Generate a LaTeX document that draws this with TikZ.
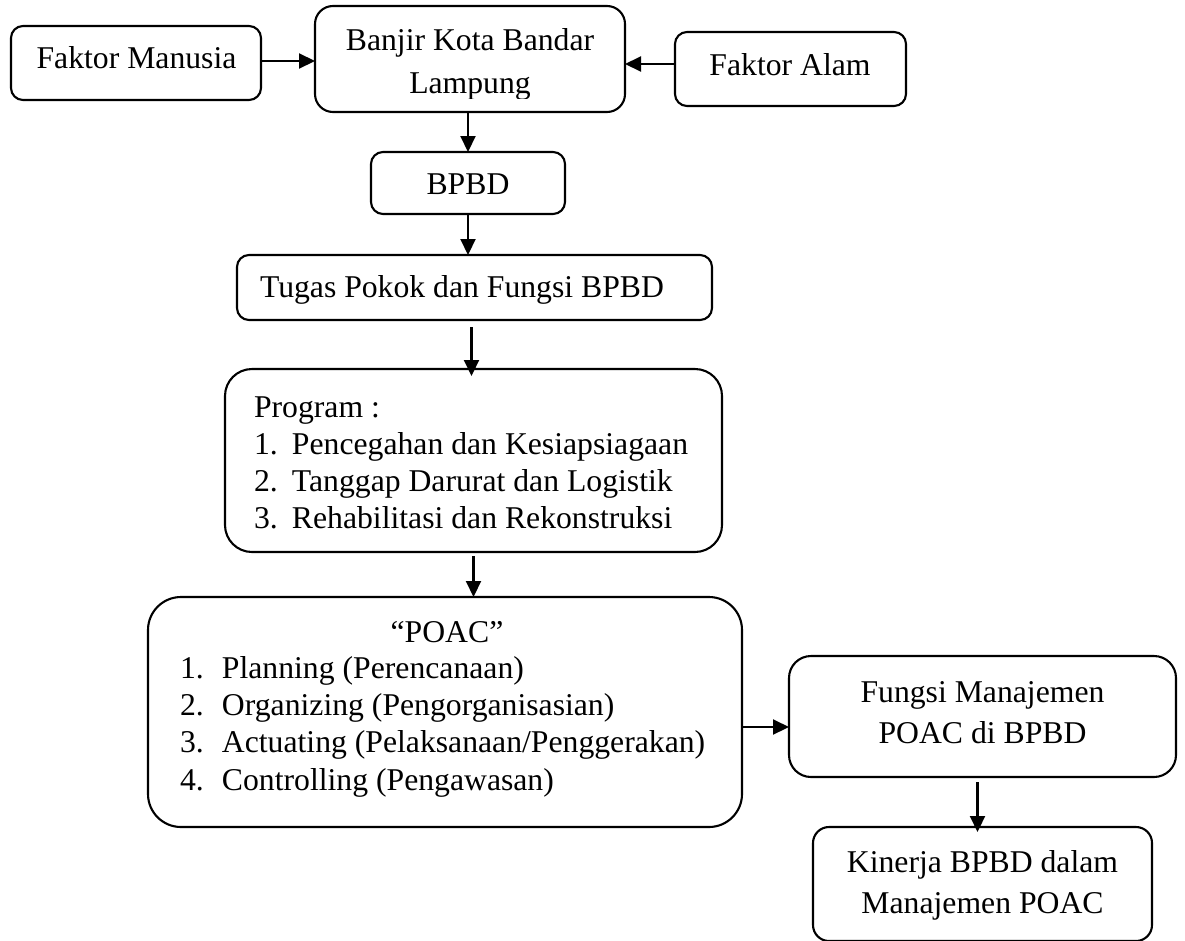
\documentclass[tikz,border=0pt]{standalone}
\usepackage{fontspec}
\setmainfont{Liberation Serif}
\usetikzlibrary{arrows.meta}
\newcommand\fsz{\fontsize{31.7}{41}\selectfont}
\newcommand\txtlines[3]{\fontsize{31.7}{#1}\selectfont\begin{tabular}[t]{@{}#2@{}}#3\end{tabular}}
\newcommand\itm[2]{\makebox[#1][l]{#2}}
\tikzset{
  box/.style={draw=black, line width=2.1pt, inner sep=0pt, outer sep=0pt},
  arr/.style={draw=black, line width=2.1pt, -{Triangle[length=16pt,width=15pt]}},
  txt/.style={inner sep=0pt, outer sep=0pt, font=\fsz, text=black},
}
\begin{document}
\begin{tikzpicture}[x=1pt,y=-1pt]
\path[use as bounding box, fill=white] (0,0) rectangle (1185,940);

% boxes
\node[box, rounded corners=12pt, minimum width=250pt, minimum height=74pt] (fm) at (136,63) {};
\node[box, rounded corners=18pt, minimum width=310pt, minimum height=106pt] (bj) at (470,59) {};
\node[box, rounded corners=12pt, minimum width=231pt, minimum height=74pt] (fa) at (790.5,69) {};
\node[box, rounded corners=12pt, minimum width=194pt, minimum height=62pt] (bp) at (468,183) {};
\node[box, rounded corners=12pt, minimum width=475pt, minimum height=65pt] (tg) at (474.5,287.5) {};
\node[box, rounded corners=27pt, minimum width=497pt, minimum height=183pt] (pg) at (473.5,460.5) {};
\node[box, rounded corners=33pt, minimum width=594pt, minimum height=230pt] (pc) at (445,712) {};
\node[box, rounded corners=22pt, minimum width=387pt, minimum height=121pt] (fg) at (982.5,716.5) {};
\node[box, rounded corners=16pt, minimum width=339pt, minimum height=114pt] (kn) at (982.5,884) {};

% texts
\node[txt, anchor=base] (fmt) at (136.5,68) {Faktor Manusia};
\begin{scope}
  \clip (316,7) rectangle (624,98);
  \node[txt, anchor=base] (bjt) at (470,50) {\txtlines{43}{c}{Banjir Kota Bandar\\Lampung}};
\end{scope}
\node[txt, anchor=base] (fat) at (790,75) {Faktor Alam};
\node[txt, anchor=base] (bpt) at (468,194) {BPBD};
\node[txt, anchor=base west] (tgt) at (260,297) {Tugas Pokok dan Fungsi BPBD};
\node[txt, anchor=base west] (pgt) at (254,417) {\txtlines{37}{l}{Program :\\
  \itm{38pt}{1.}Pencegahan dan Kesiapsiagaan\\
  \itm{38pt}{2.}Tanggap Darurat dan Logistik\\
  \itm{38pt}{3.}Rehabilitasi dan Rekonstruksi}};
\node[txt, anchor=base] (pch) at (447,642) {“POAC”};
\node[txt, anchor=base west] (pct) at (180,678) {\txtlines{37.4}{l}{%
  \itm{42pt}{1.}Planning (Perencanaan)\\
  \itm{42pt}{2.}Organizing (Pengorganisasian)\\
  \itm{42pt}{3.}Actuating (Pelaksanaan/Penggerakan)\\
  \itm{42pt}{4.}Controlling (Pengawasan)}};
\node[txt, anchor=base] (fgt) at (982.5,702) {\txtlines{41}{c}{Fungsi Manajemen\\POAC di BPBD}};
\node[txt, anchor=base] (knt) at (982.5,872) {\txtlines{41}{c}{Kinerja BPBD dalam\\Manajemen POAC}};

% connectors
\draw[arr] ([yshift=2pt]fm.east) -- ([yshift=2pt]fm.east -| bj.west);
\draw[arr] ([yshift=5pt]fa.west) -- ([yshift=5pt]fa.west -| bj.east);
\draw[arr] (bp.north |- bj.south) -- (bp.north);
\draw[arr] (bp.south) -- (bp.south |- tg.north);
\draw[arr] ([xshift=-3pt,yshift=-7pt]tg.south) -- ([xshift=-3pt,yshift=-7pt]tg.south |- pg.north);
\draw[arr] ([yshift=-4pt]pg.south) -- (pg.south |- pc.north);
\draw[arr] ([yshift=-15pt]pc.east) -- ([yshift=-15pt]pc.east -| fg.west);
\draw[arr] ([xshift=-5pt,yshift=-5pt]fg.south) -- ([xshift=-5pt,yshift=-5pt]fg.south |- kn.north);
\end{tikzpicture}
\end{document}
